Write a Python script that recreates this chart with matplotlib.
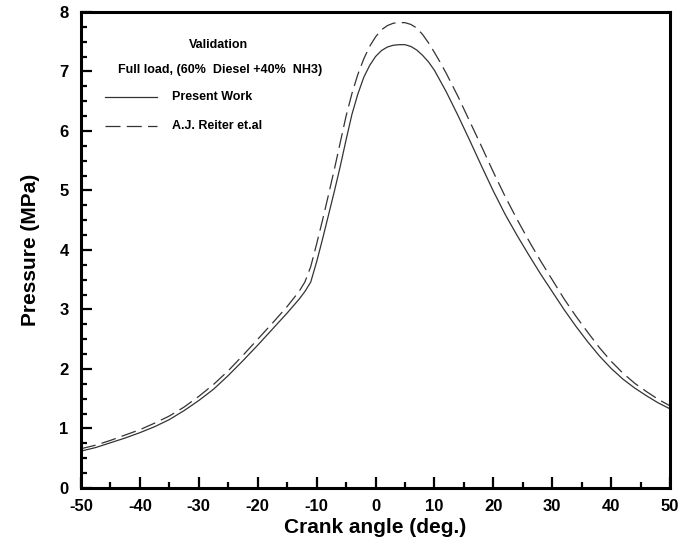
import matplotlib
matplotlib.use("Agg")
import matplotlib.pyplot as plt
from matplotlib.ticker import MultipleLocator

plt.rcParams['font.family'] = ['Liberation Sans', 'DejaVu Sans']
plt.rcParams['axes.unicode_minus'] = False

# Present Work (solid)
angle_pw = [-50, -47.5, -45, -42.5, -40, -37.5, -35, -32.5, -30, -27.5, -25, -22.5, -20, -17.5,
            -15, -13, -12, -11, -10, -9, -8, -7, -6, -5, -4, -3, -2, -1, 0, 1, 2, 3, 4, 5, 6,
            7, 8, 9, 10, 12, 14, 16, 18, 20, 22, 24, 26, 28, 30, 32, 34, 36, 38, 40, 42, 44,
            46, 48, 50]
pres_pw = [0.62, 0.68, 0.76, 0.84, 0.93, 1.03, 1.15, 1.30, 1.47, 1.66, 1.89, 2.14, 2.40, 2.67,
           2.94, 3.17, 3.30, 3.46, 3.80, 4.18, 4.58, 4.98, 5.40, 5.85, 6.28, 6.62, 6.90, 7.10,
           7.25, 7.35, 7.41, 7.44, 7.45, 7.45, 7.42, 7.36, 7.27, 7.16, 7.02, 6.66, 6.26, 5.84,
           5.41, 4.99, 4.60, 4.25, 3.92, 3.60, 3.30, 3.00, 2.72, 2.46, 2.22, 2.01, 1.83, 1.68,
           1.55, 1.43, 1.33]

# A.J. Reiter et.al (dashed)
angle_rt = [-50, -47.5, -45, -42.5, -40, -37.5, -35, -32.5, -30, -27.5, -25, -22.5, -20, -17.5,
            -15, -13, -12, -11, -10, -9, -8, -7, -6, -5, -4, -3, -2, -1, 0, 1, 2, 3, 4, 5, 6,
            7, 8, 9, 10, 11, 12, 14, 16, 18, 20, 22, 24, 26, 28, 30, 32, 34, 36, 38, 40, 42,
            44, 46, 48, 50]
pres_rt = [0.66, 0.72, 0.80, 0.89, 0.98, 1.09, 1.21, 1.36, 1.54, 1.74, 1.97, 2.23, 2.50, 2.77,
           3.05, 3.30, 3.46, 3.72, 4.10, 4.50, 4.92, 5.35, 5.80, 6.25, 6.63, 6.95, 7.21, 7.42,
           7.58, 7.70, 7.77, 7.81, 7.82, 7.82, 7.79, 7.73, 7.62, 7.48, 7.32, 7.15, 6.97, 6.58,
           6.16, 5.74, 5.31, 4.90, 4.52, 4.16, 3.82, 3.50, 3.18, 2.89, 2.62, 2.36, 2.13, 1.93,
           1.76, 1.62, 1.49, 1.38]

fig = plt.figure(figsize=(6.83, 5.43), dpi=100)
ax = fig.add_axes([0.1186, 0.1013, 0.8624, 0.8767])

ax.plot(angle_pw, pres_pw, color='#333333', lw=0.9)
ax.plot(angle_rt, pres_rt, color='#333333', lw=0.9, dashes=(12, 5))

ax.set_xlim(-50, 50)
ax.set_ylim(0, 8)
ax.xaxis.set_major_locator(MultipleLocator(10))
ax.xaxis.set_minor_locator(MultipleLocator(5))
ax.yaxis.set_major_locator(MultipleLocator(1))
ax.yaxis.set_minor_locator(MultipleLocator(0.25))
ax.tick_params(which='both', direction='in', top=False, right=False, width=1.6)
ax.tick_params(which='major', length=8, labelsize=12)
ax.tick_params(axis='x', which='major', pad=8)
ax.tick_params(axis='y', which='major', pad=9)
ax.tick_params(which='minor', length=4)
for lab in ax.get_xticklabels() + ax.get_yticklabels():
    lab.set_fontweight('bold')
for s in ax.spines.values():
    s.set_linewidth(2.2)

ax.set_xlabel('Crank angle (deg.)', fontsize=15, fontweight='bold', labelpad=3)
ax.set_ylabel('Pressure (MPa)', fontsize=15, fontweight='bold', labelpad=14)

# legend block
ax.text(0.233, 0.931, 'Validation', transform=ax.transAxes, ha='center', va='center',
        fontsize=9, fontweight='bold')
ax.text(0.236, 0.878, 'Full load, (60%  Diesel +40%  NH3)', transform=ax.transAxes,
        ha='center', va='center', fontsize=9, fontweight='bold')
ax.plot([0.041, 0.129], [0.821, 0.821], transform=ax.transAxes, color='#333333', lw=0.9)
ax.plot([0.041, 0.129], [0.7605, 0.7605], transform=ax.transAxes, color='#333333', lw=0.9,
        dashes=(12, 5))
ax.text(0.1545, 0.821, 'Present Work', transform=ax.transAxes, va='center', fontsize=9,
        fontweight='bold')
ax.text(0.1545, 0.7605, 'A.J. Reiter et.al', transform=ax.transAxes, va='center', fontsize=9,
        fontweight='bold')

fig.savefig('out.png', dpi=100)
